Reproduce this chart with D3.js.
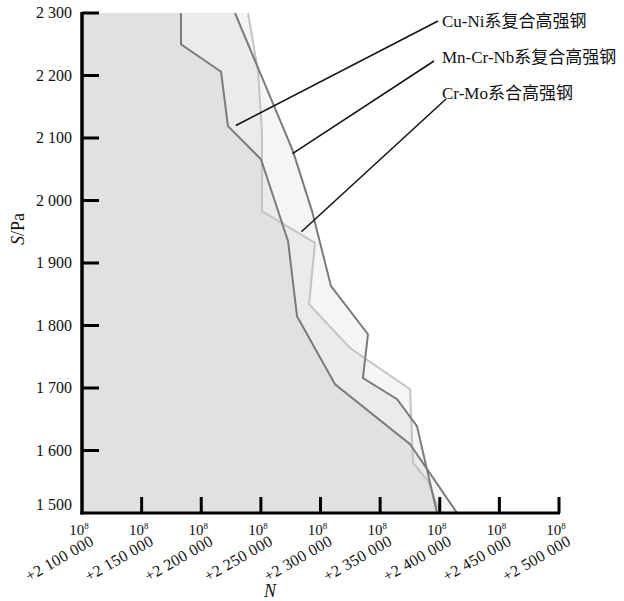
<!DOCTYPE html>
<html>
<head>
<meta charset="utf-8">
<script src="https://cdn.jsdelivr.net/npm/d3@7"></script>
<style>
  body { margin: 0; background: #fff; }
  text { font-family: "Liberation Serif", "Noto Sans CJK SC", serif; fill: #111; }
</style>
</head>
<body>
<script>
// S-N data (N offset on top of 10^8, S in Pa)
const seriesNames = ["Cu-Ni系复合高强钢", "Mn-Cr-Nb系复合高强钢", "Cr-Mo系合高强钢"];

const cuNiN = [2183000, 2183000, 2216600, 2222400, 2250100, 2272800, 2280300, 2312200, 2375100, 2414500];
const cuNiS = [2300, 2250, 2206, 2119, 2066, 1935, 1815, 1706, 1610, 1500];

const mnCrNbN = [2228300, 2276900, 2292900, 2308800, 2339800, 2335600, 2364200, 2380900, 2397700];
const mnCrNbS = [2300, 2079, 1983, 1863, 1786, 1716, 1682, 1639, 1500];

const crMoN = [2239200, 2247600, 2250900, 2250900, 2295400, 2290400, 2324700, 2375100, 2377600, 2390200, 2400200];
const crMoS = [2300, 2207, 2111, 1983, 1932, 1834, 1764, 1698, 1580, 1551, 1500];

const xTicks = [2100000, 2150000, 2200000, 2250000, 2300000, 2350000, 2400000, 2450000, 2500000];
const yTicks = [1500, 1600, 1700, 1800, 1900, 2000, 2100, 2200, 2300];

// where each leader line touches its curve (N, S)
const pointerN = [2229000, 2276500, 2284000];
const pointerS = [2120, 2075, 1950];

const W = 624, H = 601;
const svg = d3.select("body").append("svg")
  .attr("width", W)
  .attr("height", H);

const x = d3.scaleLinear().domain([2100000, 2500000]).range([82, 559]);
const y = d3.scaleLinear().domain([1500, 2300]).range([513, 13]);

const fmt = v => d3.format(",")(v).replace(/,/g, " ");

const series = [
  { n: cuNiN, s: cuNiS, stroke: "#7b7b7b" },
  { n: mnCrNbN, s: mnCrNbS, stroke: "#7b7b7b" },
  { n: crMoN, s: crMoS, stroke: "#c4c4c4" }
].map(d => ({ ...d, pts: d.n.map((v, i) => ({ n: v, s: d.s[i] })) }));

// filled areas between the S axis and each curve
const area = d3.area()
  .x0(x(2100000))
  .x1(d => x(d.n))
  .y(d => y(d.s));

svg.selectAll("path.area")
  .data(series)
  .enter().append("path")
  .attr("class", "area")
  .attr("d", d => area(d.pts))
  .style("fill", "#000")
  .style("fill-opacity", 0.04);

const line = d3.line().x(d => x(d.n)).y(d => y(d.s));

// light curve first, dark ones above it
svg.selectAll("path.curve")
  .data([series[2], series[0], series[1]])
  .enter().append("path")
  .attr("class", "curve")
  .attr("d", d => line(d.pts))
  .style("fill", "none")
  .style("stroke", d => d.stroke)
  .style("stroke-width", 2);

// y axis
const yAxis = svg.append("g").attr("transform", "translate(82,0)");
yAxis.append("line")
  .attr("x1", 0).attr("x2", 0)
  .attr("y1", y(2300) - 1).attr("y2", y(1500) + 1.5)
  .style("stroke", "#000").style("stroke-width", 3.5);
yAxis.selectAll("line.tick")
  .data(yTicks.filter(d => d > 1500))
  .enter().append("line")
  .attr("class", "tick")
  .attr("x1", 0).attr("x2", 17)
  .attr("y1", d => y(d)).attr("y2", d => y(d))
  .style("stroke", "#000").style("stroke-width", 3);
yAxis.selectAll("text")
  .data(yTicks)
  .enter().append("text")
  .attr("x", -10)
  .attr("y", d => d === 1500 ? y(d) - 8 : y(d))
  .attr("dy", "0.32em")
  .attr("text-anchor", "end")
  .style("font-size", "16px")
  .text(d => fmt(d));

// x axis
const xAxis = svg.append("g").attr("transform", "translate(0,513)");
xAxis.append("line")
  .attr("x1", x(2100000) - 1.5).attr("x2", x(2500000) + 1)
  .attr("y1", 0).attr("y2", 0)
  .style("stroke", "#000").style("stroke-width", 3);
xAxis.selectAll("line.tick")
  .data(xTicks.filter(d => d > 2100000))
  .enter().append("line")
  .attr("class", "tick")
  .attr("x1", d => x(d)).attr("x2", d => x(d))
  .attr("y1", 0).attr("y2", -16)
  .style("stroke", "#000").style("stroke-width", 3);

const pow = xAxis.selectAll("text.pow")
  .data(xTicks)
  .enter().append("text")
  .attr("class", "pow")
  .attr("x", d => x(d) - 3)
  .attr("y", 22)
  .attr("text-anchor", "middle")
  .style("font-size", "15px");
pow.append("tspan").text("10");
pow.append("tspan").attr("dy", -6).style("font-size", "9px").text("8");

xAxis.selectAll("text.val")
  .data(xTicks)
  .enter().append("text")
  .attr("class", "val")
  .attr("text-anchor", "end")
  .attr("transform", d => `translate(${x(d) + 13},31) rotate(-30)`)
  .style("font-size", "16px")
  .style("letter-spacing", "0.3px")
  .text(d => "+" + fmt(d));

// axis titles
svg.append("text")
  .attr("x", 270).attr("y", 597)
  .attr("text-anchor", "middle")
  .style("font-size", "18px")
  .style("font-style", "italic")
  .text("N");

const sTitle = svg.append("text")
  .attr("transform", "translate(24,229) rotate(-90)")
  .attr("text-anchor", "middle")
  .style("font-size", "18px");
sTitle.append("tspan").style("font-style", "italic").text("S");
sTitle.append("tspan").text("/Pa");

// legend labels with leader lines
const labelY = [27, 63, 99];
const leaderEnd = [[438, 21], [434, 61], [446, 99]];

svg.selectAll("line.leader")
  .data(seriesNames)
  .enter().append("line")
  .attr("class", "leader")
  .attr("x1", (d, i) => x(pointerN[i]))
  .attr("y1", (d, i) => y(pointerS[i]))
  .attr("x2", (d, i) => leaderEnd[i][0])
  .attr("y2", (d, i) => leaderEnd[i][1])
  .style("stroke", "#111")
  .style("stroke-width", 1.5);

svg.selectAll("text.label")
  .data(seriesNames)
  .enter().append("text")
  .attr("class", "label")
  .attr("x", 442)
  .attr("y", (d, i) => labelY[i])
  .style("font-size", "17px")
  .text(d => d);
</script>
</body>
</html>
